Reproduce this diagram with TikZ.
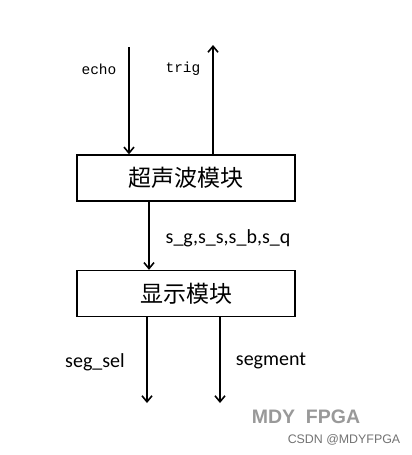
\documentclass[tikz,border=0pt]{standalone}
\usepackage{fontspec}
\usetikzlibrary{arrows.meta}
\newfontfamily\cjk{Noto Sans CJK SC}
\newfontfamily\monof{Liberation Mono}
\newfontfamily\labf{Carlito}
\newfontfamily\wmf{Liberation Sans}
\begin{document}
\begin{tikzpicture}[x=1pt,y=-1pt,
  modbox/.style={draw,line width=1.4pt,minimum width=218pt,minimum height=46pt,inner sep=0pt,font=\cjk\fontsize{23}{25}\selectfont},
  sig/.style={line width=1.6pt,-{Straight Barb[length=6pt,width=10pt,line width=1.6pt]}},
  monolab/.style={font=\monof\fontsize{14.5}{16}\selectfont},
  sanslab/.style={font=\labf\fontsize{20}{22}\selectfont}]
\useasboundingbox[fill=white] (0,0) rectangle (412,455);
\node[modbox] (b1) at (186,178) {超声波模块};
\node[modbox] (b2) at (186,293.5) {显示模块};
\coordinate (echoTop) at (129,47);
\coordinate (trigTop) at (213,45);
\coordinate (selEnd) at (147,403);
\coordinate (segEnd) at (220,403);
\draw[sig] (echoTop) -- (echoTop |- b1.north);
\draw[sig] (trigTop |- b1.north) -- (trigTop);
\draw[sig] (b1.south -| 149,0) -- (b2.north -| 149,0);
\draw[sig] (selEnd |- b2.south) -- (selEnd);
\draw[sig] (segEnd |- b2.south) -- (segEnd);
\node[monolab] (echoL) at (99,69) {echo};
\node[monolab] (trigL) at (183,69) {trig};
\node[sanslab] (sL) at (228,238) {s\_g,s\_s,s\_b,s\_q};
\node[sanslab] (selL) at (95,362) {seg\_sel};
\node[sanslab] (segL) at (271,361) {segment};
\node[font=\wmf\bfseries\fontsize{19.5}{21}\selectfont,text=black!40] (wm) at (306,417) {MDY\ \ FPGA};
\node[font=\wmf\fontsize{12.4}{14}\selectfont,text=black!55] (csdn) at (344,440) {CSDN @MDYFPGA};
\end{tikzpicture}
\end{document}
